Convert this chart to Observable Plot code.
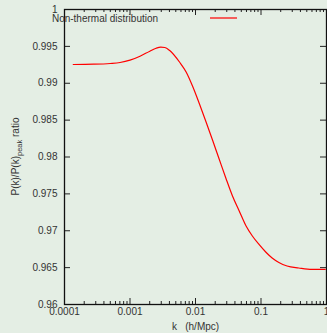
<!DOCTYPE html>
<html><head><meta charset="utf-8">
<script src="https://cdn.jsdelivr.net/npm/d3@7"></script>
<script src="https://cdn.jsdelivr.net/npm/@observablehq/plot@0.6"></script>
<style>
html,body{margin:0;padding:0;background:#e4eee4;}
#chart svg{display:block;background:#e4eee4;}
</style></head>
<body><div id="chart"></div>
<script>
const kValues = [1.36e-4, 2.78e-4, 4.98e-4, 7.05e-4, 1.0e-3, 1.42e-3, 2.01e-3, 2.5e-3, 2.95e-3, 3.4e-3, 4.04e-3, 5.73e-3, 7.23e-3, 9.10e-3, 1.15e-2, 1.45e-2, 1.83e-2, 2.31e-2, 2.92e-2, 3.67e-2, 4.65e-2, 5.86e-2, 7.38e-2, 9.33e-2, 0.118, 0.148, 0.1875, 0.250, 0.377, 0.598, 0.955];
const ratioValues = [0.99254, 0.99258, 0.99268, 0.99281, 0.99313, 0.99367, 0.99435, 0.99475, 0.99490, 0.99485, 0.99444, 0.99285, 0.99150, 0.98953, 0.98719, 0.98475, 0.98224, 0.97966, 0.97709, 0.97471, 0.97268, 0.97071, 0.96929, 0.96814, 0.96712, 0.96631, 0.96570, 0.96522, 0.96495, 0.96475, 0.96475];
const xDomain = [1e-4, 1];
const yDomain = [0.96, 1];
const xMajorTicks = [1e-4, 1e-3, 1e-2, 1e-1, 1];
const xTickLabels = ["0.0001", "0.001", "0.01", "0.1", "1"];
const xMinorTicks = [1e-4, 1e-3, 1e-2, 1e-1].flatMap(d => [2,3,4,5,6,7,8,9].map(m => d * m));
const yTicks = [0.96, 0.965, 0.97, 0.975, 0.98, 0.985, 0.99, 0.995, 1];
const yTickLabels = ["0.96", "0.965", "0.97", "0.975", "0.98", "0.985", "0.99", "0.995", "1"];
const seriesName = "Non-thermal distribution";
const xLabel = "k   (h/Mpc)";

const data = kValues.map((k, i) => ({k, r: ratioValues[i]}));
const font = "Liberation Sans, Arial, sans-serif";
const tickColor = "#222";

const legendMark = (index, scales, values, dim) => {
  const g = d3.create("svg:g").attr("font-family", font).attr("font-size", 10).attr("fill", "#333");
  const x0 = dim.marginLeft + 41, y0 = dim.marginTop + 9;
  g.append("text").attr("x", x0).attr("y", y0).attr("dy", "0.35em").text(seriesName);
  g.append("line").attr("x1", x0 + 105).attr("x2", x0 + 132).attr("y1", y0).attr("y2", y0)
    .attr("stroke", "red").attr("stroke-width", 1.2);
  return g.node();
};
const yLabelMark = (index, scales, values, dim) => {
  const cy = dim.marginTop + (dim.height - dim.marginTop - dim.marginBottom) / 2;
  const t = d3.create("svg:text").attr("font-family", font).attr("font-size", 10).attr("fill", "#333")
    .attr("text-anchor", "middle").attr("transform", `translate(18.5,${cy}) rotate(-90)`);
  t.append("tspan").text("P(k)/P(k)");
  t.append("tspan").attr("font-size", 7.5).attr("dy", 3).text("peak");
  t.append("tspan").attr("dy", -3).text(" ratio");
  return t.node();
};

const chart = Plot.plot({
  width: 327, height: 333,
  marginLeft: 64, marginRight: 1, marginTop: 9, marginBottom: 29,
  style: {background: "#e4eee4", fontFamily: font, fontSize: "10px", color: "#333"},
  x: {type: "log", domain: xDomain, axis: null},
  y: {domain: yDomain, axis: null},
  marks: [
    Plot.text(xMajorTicks, {x: d => d, frameAnchor: "bottom", dy: 10, text: (d, i) => xTickLabels[i], fontSize: 10, fill: "#333"}),
    Plot.text(yTicks, {y: d => d, frameAnchor: "left", dx: -7, textAnchor: "end", text: (d, i) => yTickLabels[i], fontSize: 10, fill: "#333"}),
    Plot.text([xLabel], {frameAnchor: "bottom", dy: 25, text: d => d, fontSize: 10, fill: "#333"}),
    // inward ticks: bottom
    Plot.ruleX(xMajorTicks, {x: d => d, y1: yDomain[0], y2: yDomain[0], insetTop: -6, stroke: tickColor}),
    Plot.ruleX(xMinorTicks, {x: d => d, y1: yDomain[0], y2: yDomain[0], insetTop: -3, stroke: tickColor}),
    // top
    Plot.ruleX(xMajorTicks, {x: d => d, y1: yDomain[1], y2: yDomain[1], insetBottom: -6, stroke: tickColor}),
    Plot.ruleX(xMinorTicks, {x: d => d, y1: yDomain[1], y2: yDomain[1], insetBottom: -3, stroke: tickColor}),
    // left / right
    Plot.ruleY(yTicks, {y: d => d, x1: xDomain[0], x2: xDomain[0], insetRight: -6, stroke: tickColor}),
    Plot.ruleY(yTicks, {y: d => d, x1: xDomain[1], x2: xDomain[1], insetLeft: -6, stroke: tickColor}),
    Plot.frame({stroke: "#111", strokeWidth: 1.3}),
    Plot.line(data, {x: "k", y: "r", stroke: "red", strokeWidth: 1.2, curve: "monotone-x"}),
    legendMark,
    yLabelMark
  ]
});
document.getElementById("chart").append(chart);
</script></body></html>
